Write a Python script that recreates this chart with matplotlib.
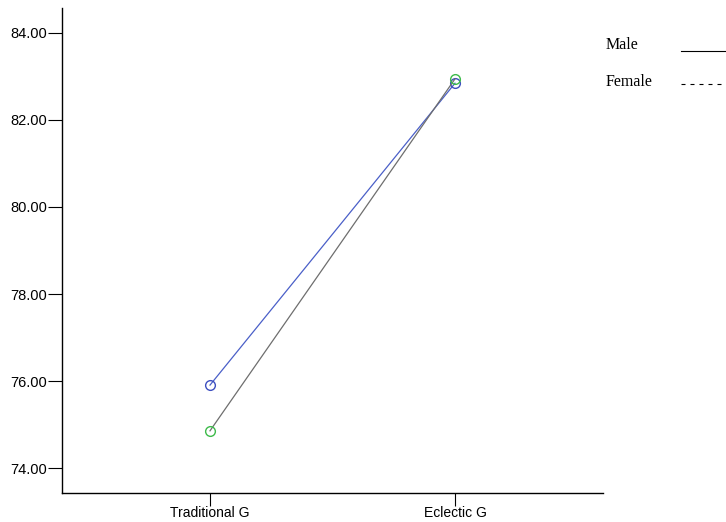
import matplotlib
matplotlib.use("Agg")
import matplotlib.pyplot as plt
from matplotlib.lines import Line2D

# estimated marginal means
groups = ["Traditional G", "Eclectic G"]
male = [75.91, 82.84]
female = [74.86, 82.94]
yticks = [74, 76, 78, 80, 82, 84]
legend_labels = ["Male", "Female"]


def draw():
    fig = plt.figure(figsize=(7.26, 5.22), dpi=100)
    ax = fig.add_axes([0.0854, 0.0556, 0.7452, 0.9291])
    x = list(range(len(groups)))

    ax.plot(x, male, color="#4a5fc8", lw=0.9, marker="o", ms=7, mfc="none",
            mec="#3d4fc0", mew=1.0)
    ax.plot(x, female, color="#6e6e6e", lw=0.9, marker="o", ms=7, mfc="none",
            mec="#3dbb4a", mew=1.0)

    ax.set_xlim(-0.604, 1.604)
    ax.set_ylim(73.433, 84.567)
    ax.set_xticks(x)
    ax.set_xticklabels(groups, family="Liberation Sans", fontsize=10)
    ax.set_yticks(yticks)
    ax.set_yticklabels([f"{v:.2f}" for v in yticks], family="Liberation Sans", fontsize=10.5)
    ax.tick_params(axis="y", direction="out", length=10, width=0.8, pad=0.5)
    ax.tick_params(axis="x", direction="out", length=9, width=0.8, pad=0.5)
    for s in ["top", "right"]:
        ax.spines[s].set_visible(False)
    for s in ["left", "bottom"]:
        ax.spines[s].set_linewidth(1.0)

    # legend the way the source draws it: label, then a line sample to the right
    W, H = 726, 522
    styles = [dict(ls="-"), dict(dashes=(3.6, 4.5))]
    text_y = [45, 82]
    line_y = [51, 84]
    for lab, st, ty, ly in zip(legend_labels, styles, text_y, line_y):
        fig.text(606 / W, 1 - ty / H, lab, family="Liberation Serif", fontsize=11.5,
                 ha="left", va="center")
        fig.add_artist(Line2D([681 / W, 726 / W], [1 - ly / H, 1 - ly / H],
                              transform=fig.transFigure, color="black", lw=0.8, **st))

    fig.savefig("out.png", dpi=100)
    plt.close(fig)


if __name__ == "__main__":
    draw()
